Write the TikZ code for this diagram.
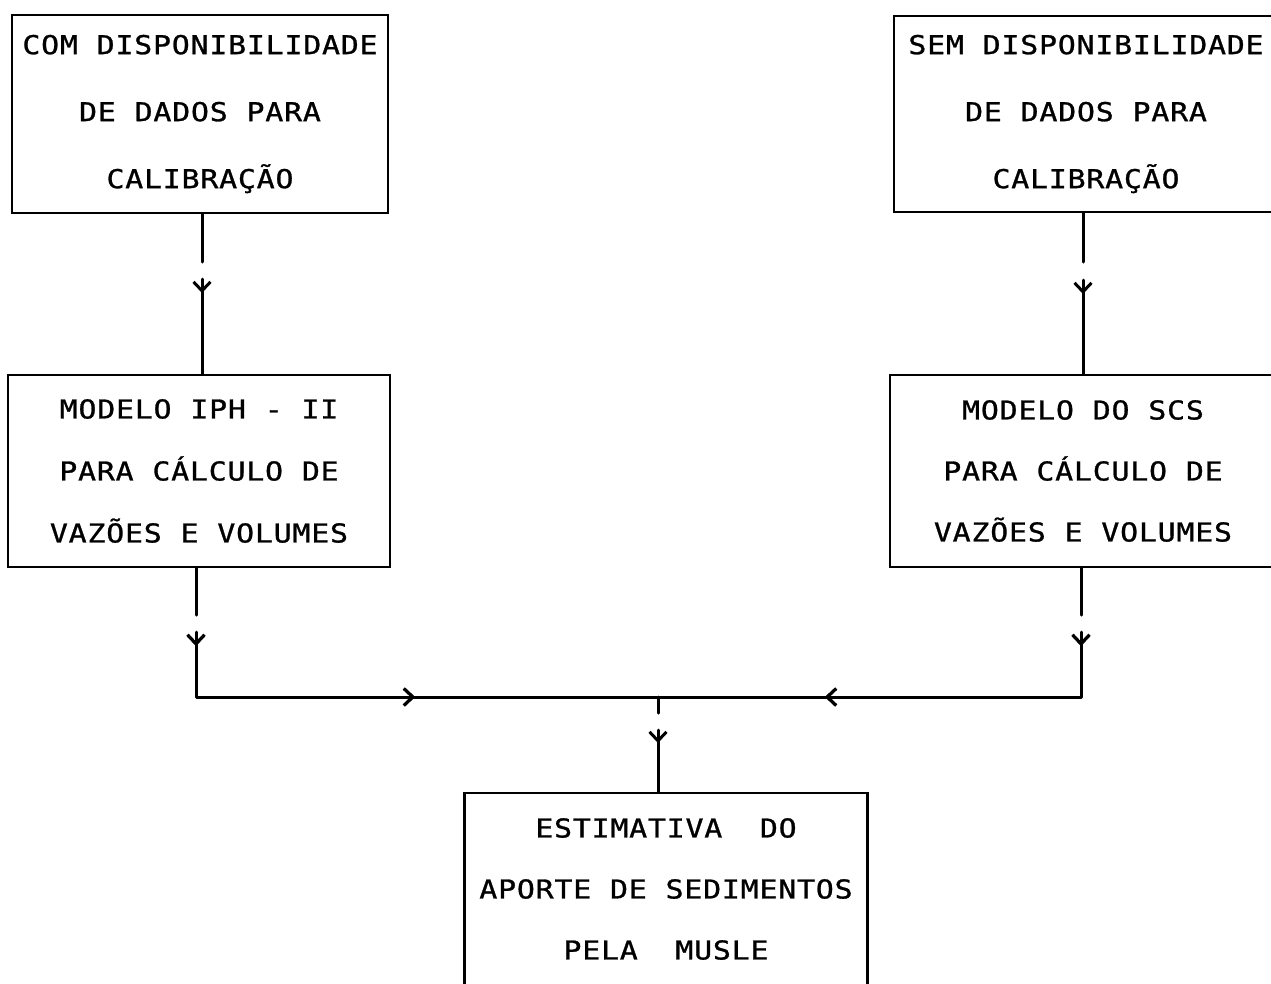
\documentclass[tikz,border=0pt]{standalone}
\usepackage{fontspec}
\newfontfamily\plotfont[FakeStretch=1.15, LetterSpace=3, FakeBold=1]{DejaVu Sans Mono}
\usetikzlibrary{arrows.meta,decorations.markings}
\tikzset{
  box/.style={draw, line width=2.2pt, align=center, inner sep=0pt,
    font=\plotfont\fontsize{26pt}{#1}\selectfont},
  box/.default=64pt,
  conn/.style={line width=3pt, line cap=round, line join=round},
  tipmark/.style={postaction={decorate}, decoration={markings,
    mark=at position #1 with {\arrow{Straight Barb[length=9pt,width=17pt,line width=3pt]}}}},
}
\begin{document}
\begin{tikzpicture}[x=1pt,y=-1pt]
\path[use as bounding box, clip] (0,0) rectangle (1271,983);
% boxes
\node[box=67pt, minimum width=376pt, minimum height=198pt] (b1) at (200,114)
  {COM DISPONIBILIDADE\\DE DADOS PARA\\CALIBRAÇÃO};
\node[box=67pt, minimum width=384pt, minimum height=196pt] (b2) at (1086,114)
  {SEM DISPONIBILIDADE\\DE DADOS PARA\\CALIBRAÇÃO};
\node[box=62pt, minimum width=382pt, minimum height=192pt] (b3) at (199,471)
  {MODELO IPH - II\\PARA CÁLCULO DE\\VAZÕES E VOLUMES};
\node[box=61pt, minimum width=386pt, minimum height=192pt] (b4) at (1083,471)
  {MODELO DO SCS\\PARA CÁLCULO DE\\VAZÕES E VOLUMES};
\node[box=61pt, minimum width=403pt, minimum height=192pt] (b5) at (666,889)
  {ESTIMATIVA\ \ DO\\APORTE DE SEDIMENTOS\\PELA\ \ MUSLE};
% coordinates for gaps and joints
\coordinate (T1) at (202,262);
\coordinate (T2) at (202,279);
\coordinate (U1) at (1083,262);
\coordinate (U2) at (1083,280);
\coordinate (L1) at (196,615);
\coordinate (L2) at (196,632);
\coordinate (LC) at (196,697);
\coordinate (R1) at (1081,615);
\coordinate (R2) at (1081,632);
\coordinate (RC) at (1081,697);
\coordinate (J) at (658,697);
\coordinate (J1) at (658,713);
\coordinate (J2) at (658,730);
% connectors
\draw[conn] (b1.south -| T1) -- (T1);
\draw[conn, tipmark=14pt] (T2) -- (b3.north -| T2);
\draw[conn] (b2.south -| U1) -- (U1);
\draw[conn, tipmark=14pt] (U2) -- (b4.north -| U2);
\draw[conn] (b3.south -| L1) -- (L1);
\draw[conn] (b4.south -| R1) -- (R1);
\draw[conn, tipmark=14pt, tipmark=284pt] (L2) -- (LC) -- (J);
\draw[conn, tipmark=14pt, tipmark=321pt] (R2) -- (RC) -- (J);
\draw[conn] (J) -- (J1);
\draw[conn, tipmark=13pt] (J2) -- (b5.north -| J2);
\end{tikzpicture}
\end{document}
